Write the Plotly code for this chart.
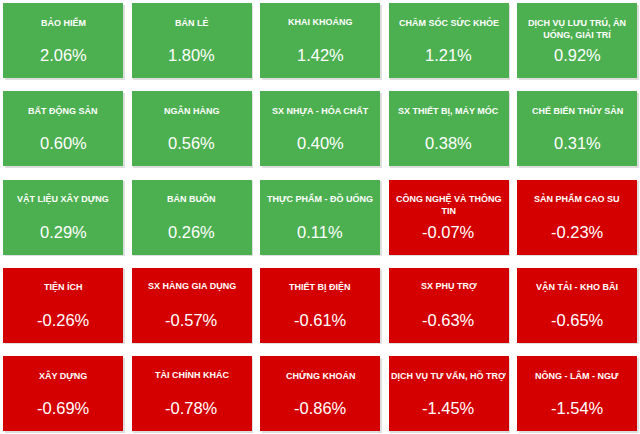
import plotly.graph_objects as go

sectors = [
    ["BẢO HIỂM", "BÁN LẺ", "KHAI KHOÁNG", "CHĂM SÓC SỨC KHỎE", "DỊCH VỤ LƯU TRÚ, ĂN<br>UỐNG, GIẢI TRÍ"],
    ["BẤT ĐỘNG SẢN", "NGÂN HÀNG", "SX NHỰA - HÓA CHẤT", "SX THIẾT BỊ, MÁY MÓC", "CHẾ BIẾN THỦY SẢN"],
    ["VẬT LIỆU XÂY DỰNG", "BÁN BUÔN", "THỰC PHẨM - ĐỒ UỐNG", "CÔNG NGHỆ VÀ THÔNG<br>TIN", "SẢN PHẨM CAO SU"],
    ["TIỆN ÍCH", "SX HÀNG GIA DỤNG", "THIẾT BỊ ĐIỆN", "SX PHỤ TRỢ", "VẬN TẢI - KHO BÃI"],
    ["XÂY DỰNG", "TÀI CHÍNH KHÁC", "CHỨNG KHOÁN", "DỊCH VỤ TƯ VẤN, HỖ TRỢ", "NÔNG - LÂM - NGƯ"],
]
changes = [
    [2.06, 1.80, 1.42, 1.21, 0.92],
    [0.60, 0.56, 0.40, 0.38, 0.31],
    [0.29, 0.26, 0.11, -0.07, -0.23],
    [-0.26, -0.57, -0.61, -0.63, -0.65],
    [-0.69, -0.78, -0.86, -1.45, -1.54],
]

GREEN = "#4CAF50"
RED = "#D40000"
FONT = "Liberation Sans, Arial, sans-serif"

nrows = len(changes)
ncols = len(changes[0])

# pixel geometry of the grid
COL_PITCH = 128.5
ROW_PITCH = 88.25
TILE_W = 120 / COL_PITCH
TILE_H = 75 / ROW_PITCH

xs, bases, colors = [], [], []
for r in range(nrows):
    for c in range(ncols):
        xs.append(c)
        bases.append(r - TILE_H / 2)
        colors.append(GREEN if changes[r][c] > 0 else RED)

fig = go.Figure()
# soft shadow
fig.add_trace(go.Bar(
    x=xs, y=[TILE_H] * len(xs), base=[b + 1.5 / ROW_PITCH for b in bases],
    width=TILE_W, offset=-TILE_W / 2 + 1.5 / COL_PITCH,
    marker=dict(color="rgba(0,0,0,0.13)", line=dict(width=0)),
    hoverinfo="skip",
))
fig.add_trace(go.Bar(
    x=xs, y=[TILE_H] * len(xs), base=bases,
    width=TILE_W, offset=-TILE_W / 2,
    marker=dict(color=colors, line=dict(width=0)),
    hoverinfo="skip",
))

annotations = []
for r in range(nrows):
    for c in range(ncols):
        annotations.append(dict(
            x=c, y=r, xref="x", yref="y", text=f"<b>{sectors[r][c]}</b>",
            showarrow=False, yanchor="top", yshift=26,
            font=dict(family=FONT, size=9, color="white"),
        ))
        annotations.append(dict(
            x=c, y=r, xref="x", yref="y", text=f"{changes[r][c]:.2f}%",
            showarrow=False, yanchor="middle", yshift=-14.5,
            font=dict(family=FONT, size=16.5, color="white"),
        ))

fig.update_layout(
    width=640, height=434,
    margin=dict(l=0, r=0, t=0, b=0),
    paper_bgcolor="white", plot_bgcolor="white",
    barmode="overlay", bargap=0,
    xaxis=dict(range=[-63 / COL_PITCH, (640 - 63) / COL_PITCH], visible=False, fixedrange=True),
    yaxis=dict(range=[(434 - 40.5) / ROW_PITCH, -40.5 / ROW_PITCH], visible=False, fixedrange=True),
    annotations=annotations,
    showlegend=False,
)

fig.write_html(
    "out.html",
    config={"displayModeBar": False},
    post_script="document.body.style.margin='0';document.body.style.overflow='hidden';",
)
